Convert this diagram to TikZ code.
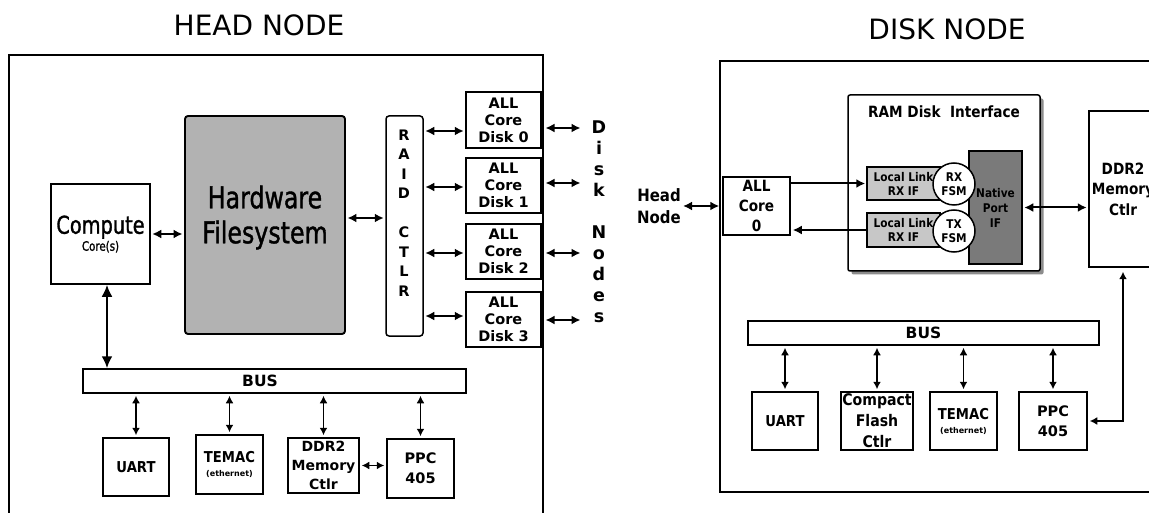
\documentclass[tikz,border=0pt]{standalone}
\usepackage{fontspec}
\setmainfont{DejaVu Sans}
\newfontfamily\cnd{DejaVu Sans}[FakeStretch=0.88]
\newfontfamily\ncnd{DejaVu Sans}[FakeStretch=0.79, FakeBold=1.2]
\usetikzlibrary{arrows.meta,shadows}

\begin{document}
\begin{tikzpicture}[x=1pt, y=-1pt,
    frame/.style={draw, line width=2pt, inner sep=0pt},
    blk/.style={draw, line width=1.5pt, fill=white, inner sep=0pt, align=center},
    lbl/.style={inner sep=0pt, align=center},
    dbl/.style={{Latex[length=9pt,width=9pt]}-{Latex[length=9pt,width=9pt]}, line width=2pt, shorten >=1.5pt, shorten <=1.5pt},
    bigdbl/.style={{Latex[length=12pt,width=11pt]}-{Latex[length=12pt,width=11pt]}, line width=2.3pt},
    sdbl/.style={{Latex[length=7.5pt,width=8pt]}-{Latex[length=7.5pt,width=8pt]}, line width=1.6pt, shorten >=2pt, shorten <=2pt},
    one/.style={-{Latex[length=9pt,width=9pt]}, line width=2pt, shorten >=1pt},
    bf/.style={font=\bfseries\fontsize{14.5}{17}\selectfont},
    cbf/.style={font=\cnd\bfseries\fontsize{15}{17}\selectfont}]
\useasboundingbox (0,0) rectangle (1149,513);
\clip (0,0) rectangle (1149,513);

% ---------------- head node ----------------
\node[lbl, font=\fontsize{28}{32}\selectfont] (headttl) at (259,25) {HEAD NODE};
\node[frame, minimum width=534, minimum height=490] (headbox) at (276,300) {};

\node[blk, minimum width=99, minimum height=100, font=\ncnd\fontsize{13}{17}\selectfont] (comp) at (100.5,234)
    {{\fontsize{24.5}{17}\selectfont Compute}\\Core(s)};
\node[blk, fill=black!30, rounded corners=3pt, line width=1.9pt, minimum width=160, minimum height=218] (hwfs) at (265,225) {};
\node[lbl, font=\ncnd\fontsize{30}{35}\selectfont] (hwfstxt) at (265,217.5) {Hardware\\Filesystem};
\node[blk, rounded corners=3pt, minimum width=37, minimum height=220] (raid) at (404.5,226) {};
\node[lbl, font=\bfseries\fontsize{14.5}{19.5}\selectfont] (raidtxt) at (404,213) {R\\A\\I\\D\\\mbox{}\\C\\T\\L\\R};

% disk cores
\node[blk, bf, minimum width=75, minimum height=56] (d0) at (503.5,120) {ALL\\Core\\Disk 0};
\node[blk, bf, minimum width=75, minimum height=55] (d1) at (503.5,185.5) {ALL\\Core\\Disk 1};
\node[blk, bf, minimum width=75, minimum height=55] (d2) at (503.5,251.5) {ALL\\Core\\Disk 2};
\node[blk, bf, minimum width=75, minimum height=55] (d3) at (503.5,319.5) {ALL\\Core\\Disk 3};
\node[lbl, font=\bfseries\fontsize{17.5}{21}\selectfont] (dntxt) at (599,221.5) {D\\i\\s\\k\\\mbox{}\\N\\o\\d\\e\\s};

\draw[dbl] (comp.east) -- (comp.east -| hwfs.west);
\path (hwfs.east) ++(0,-7) coordinate (hr);
\draw[dbl] (hr) -- (hr -| raid.west);
\path (d0.west) ++(0,11) coordinate (r0);
\path (d1.west) ++(0,1.5) coordinate (r1);
\path (d2.west) ++(0,1.5) coordinate (r2);
\path (d3.west) ++(0,-3.5) coordinate (r3);
\draw[dbl] (raid.east |- r0) -- (r0);
\draw[dbl] (raid.east |- r1) -- (r1);
\draw[dbl] (raid.east |- r2) -- (r2);
\draw[dbl] (raid.east |- r3) -- (r3);

% links out to the disk nodes
\coordinate (o0) at (582,128);
\coordinate (o1) at (582,183);
\coordinate (o2) at (582,253);
\coordinate (o3) at (582,320);
\draw[dbl, line width=2.2pt] (headbox.east |- o0) -- (o0);
\draw[dbl, line width=2.2pt] (headbox.east |- o1) -- (o1);
\draw[dbl, line width=2.2pt] (headbox.east |- o2) -- (o2);
\draw[dbl, line width=2.2pt] (headbox.east |- o3) -- (o3);

% bus and peripherals
\node[blk, minimum width=383, minimum height=24] (busL) at (274.5,381) {};
\node[lbl, font=\bfseries\fontsize{15.5}{18}\selectfont] (busLtxt) at (260,381) {BUS};
\path (comp.south) ++(6.5,0) coordinate (cb);
\draw[bigdbl] (cb) -- (cb |- busL.north);

\node[blk, minimum width=66, minimum height=58, cbf] (uartL) at (136,467) {UART};
\node[blk, minimum width=67, minimum height=59, font=\bfseries\fontsize{8}{14}\selectfont] (temacL) at (229.5,464.5)
    {{\cnd\fontsize{15}{14}\selectfont TEMAC}\\(ethernet)};
\node[blk, minimum width=71, minimum height=55, font=\bfseries\fontsize{14}{19}\selectfont] (ddrL) at (323.5,465.5) {DDR2\\Memory\\Ctlr};
\node[blk, minimum width=67, minimum height=59, font=\bfseries\fontsize{14.5}{20}\selectfont] (ppcL) at (420.5,468.5) {PPC\\405};

\draw[sdbl] (uartL.north) -- (uartL.north |- busL.south);
\draw[sdbl] (temacL.north) -- (temacL.north |- busL.south);
\draw[sdbl] (ddrL.north) -- (ddrL.north |- busL.south);
\draw[sdbl] (ppcL.north) -- (ppcL.north |- busL.south);
\draw[sdbl] (ddrL.east) -- (ddrL.east -| ppcL.west);

% ---------------- disk node ----------------
\node[lbl, font=\fontsize{28}{32}\selectfont] (diskttl) at (947,29) {DISK NODE};
\node[frame, minimum width=460, minimum height=431] (diskbox) at (950,276.5) {};

\node[lbl, font=\cnd\bfseries\fontsize{17}{22}\selectfont] (headtxt) at (659,206) {Head\\Node};
\node[blk, minimum width=67, minimum height=58, font=\cnd\bfseries\fontsize{15.5}{20}\selectfont] (core0) at (756.5,206) {ALL\\Core\\0};
\draw[dbl, line width=2.3pt, shorten >=3pt, shorten <=2pt] (headtxt.east) -- (core0.west);

% ram disk interface
\node[blk, rounded corners=2pt, minimum width=192, minimum height=176,
      drop shadow={shadow xshift=3.5pt, shadow yshift=-3.5pt, fill=black!45, opacity=1}] (ram) at (944,183) {};
\node[lbl, font=\cnd\bfseries\fontsize{15.5}{18}\selectfont] (ramtxt) at (944,112) {RAM Disk\ \ Interface};
\node[blk, fill=black!22, minimum width=73, minimum height=33, font=\cnd\bfseries\fontsize{12}{14}\selectfont] (llrx) at (903.5,183.5) {Local Link\\RX IF};
\node[blk, fill=black!22, minimum width=73, minimum height=34, font=\cnd\bfseries\fontsize{12}{14}\selectfont] (lltx) at (903.5,230) {Local Link\\RX IF};
\node[blk, fill=black!52, minimum width=53, minimum height=113, font=\cnd\bfseries\fontsize{12}{15}\selectfont] (npif) at (995.5,207.5) {Native\\Port\\IF};
\node[blk, circle, minimum size=42, font=\cnd\bfseries\fontsize{12}{14}\selectfont] (rxfsm) at (954,184) {RX\\FSM};
\node[blk, circle, minimum size=42, font=\cnd\bfseries\fontsize{12}{14}\selectfont] (txfsm) at (954,231) {TX\\FSM};

\draw[one] (core0.east |- llrx.west) -- (llrx.west);
\draw[one, shorten >=2pt] (lltx.west) -- (lltx.west -| core0.east);

\node[blk, minimum width=68, minimum height=156, font=\cnd\bfseries\fontsize{15.5}{20.5}\selectfont] (ddrR) at (1123,189) {DDR2\\Memory\\Ctlr};
\draw[dbl] (npif.east) -- (npif.east -| ddrR.west);

% bus and peripherals
\node[blk, minimum width=351, minimum height=24, font=\bfseries\fontsize{15.5}{18}\selectfont] (busR) at (923.5,333) {BUS};
\node[blk, minimum width=66, minimum height=58, cbf] (uartR) at (785,421) {UART};
\node[blk, minimum width=72, minimum height=58, font=\cnd\bfseries\fontsize{16}{21}\selectfont] (cfR) at (877,421) {Compact\\Flash\\Ctlr};
\node[blk, minimum width=67, minimum height=58, font=\bfseries\fontsize{8}{14}\selectfont] (temacR) at (963.5,421)
    {{\cnd\fontsize{15}{14}\selectfont TEMAC}\\(ethernet)};
\node[blk, minimum width=68, minimum height=58, font=\bfseries\fontsize{14.5}{20}\selectfont] (ppcR) at (1053,421) {PPC\\405};

\draw[sdbl] (uartR.north) -- (uartR.north |- busR.south);
\draw[sdbl] (cfR.north) -- (cfR.north |- busR.south);
\draw[sdbl] (temacR.north) -- (temacR.north |- busR.south);
\draw[sdbl] (ppcR.north) -- (ppcR.north |- busR.south);
\draw[sdbl, shorten <=4pt] (ddrR.south) |- (ppcR.east);
\end{tikzpicture}
\end{document}
